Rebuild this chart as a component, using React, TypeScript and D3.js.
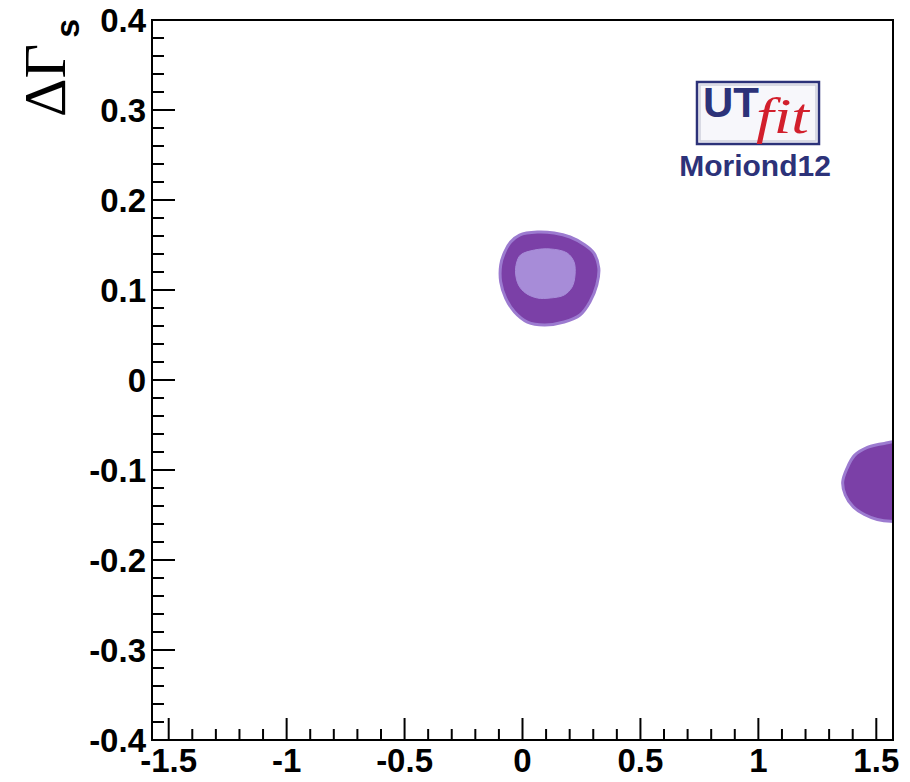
import React from "react";
import * as d3 from "d3";

// Axis ranges (phi_s in rad, DeltaGamma_s in ps^-1)
const xDomain: [number, number] = [-Math.PI / 2, Math.PI / 2];
const yDomain: [number, number] = [-0.4, 0.4];
const xMajorTicks = [-1.5, -1, -0.5, 0, 0.5, 1, 1.5];
const xTickLabels = ["-1.5", "-1", "-0.5", "0", "0.5", "1", "1.5"];
const yMajorTicks = [-0.4, -0.3, -0.2, -0.1, 0, 0.1, 0.2, 0.3, 0.4];
const yTickLabels = ["-0.4", "-0.3", "-0.2", "-0.1", "0", "0.1", "0.2", "0.3", "0.4"];

// 95% probability region around the SM-like solution
const mainOuter: [number, number][] = [
  [-0.0126, 0.1611], [0.063, 0.1644], [0.1345, 0.1633], [0.2017, 0.1589],
  [0.2647, 0.15], [0.3025, 0.1411], [0.3235, 0.1244], [0.3151, 0.1056],
  [0.2857, 0.0867], [0.2437, 0.0722], [0.1765, 0.0644], [0.0924, 0.0611],
  [0.021, 0.0644], [-0.0336, 0.0756], [-0.0714, 0.0911], [-0.0924, 0.1089],
  [-0.0924, 0.1278], [-0.0756, 0.1422], [-0.0504, 0.1533],
];
// 68% probability region
const mainInner: [number, number][] = [
  [-0.0084, 0.1389], [0.0504, 0.1444], [0.1176, 0.1456], [0.1891, 0.1411],
  [0.2185, 0.1311], [0.2227, 0.1167], [0.2101, 0.1033], [0.1765, 0.0944],
  [0.1176, 0.0911], [0.063, 0.0911], [0.0126, 0.0967], [-0.0168, 0.1056],
  [-0.0294, 0.1189], [-0.0252, 0.13],
];
// mirror solution near phi = pi/2 (95% region)
const mirrorOuter: [number, number][] = [
  [1.5336, -0.0705], [1.4622, -0.0749], [1.4076, -0.0838], [1.3765, -0.0978],
  [1.3575, -0.1133], [1.3685, -0.1278], [1.4012, -0.1406], [1.4496, -0.1495],
  [1.5042, -0.155], [1.56, -0.157], [1.6, -0.156], [1.6, -0.07],
];

const W = 910;
const H = 782;
const m = { left: 152, right: 893, top: 20, bottom: 740 };

export default function App() {
  const x = d3.scaleLinear().domain(xDomain).range([m.left, m.right]);
  const y = d3.scaleLinear().domain(yDomain).range([m.bottom, m.top]);

  const line = d3
    .line<[number, number]>()
    .x((d) => x(d[0]))
    .y((d) => y(d[1]))
    .curve(d3.curveCatmullRomClosed.alpha(0.5));

  const xMinor = d3.range(-15, 16).map((i) => i / 10).filter((v) => !xMajorTicks.some((t) => Math.abs(t - v) < 1e-9));
  const yMinor = d3.range(-20, 21).map((i) => i / 50).filter((v) => !yMajorTicks.some((t) => Math.abs(t - v) < 1e-9));

  const dark = "#7b40a7";
  const light = "#a78cd8";
  const rim = "#9c7bd0";
  const navy = "#2c3279";
  const font = "'Liberation Sans', Arial, Helvetica, sans-serif";

  return (
    <svg
      width={W}
      height={H}
      style={{ position: "absolute", left: 0, top: 0, display: "block", background: "#fff" }}
    >
      <defs>
        <clipPath id="plotClip">
          <rect x={m.left} y={m.top} width={m.right - m.left} height={m.bottom - m.top} />
        </clipPath>
      </defs>
      <rect x={0} y={0} width={W} height={H} fill="#fff" />

      <g clipPath="url(#plotClip)">
        <path d={line(mainOuter) || ""} fill={dark} stroke={rim} strokeWidth={3} strokeLinejoin="round" />
        <path d={line(mainInner) || ""} fill={light} stroke={light} strokeWidth={1} />
        <path d={line(mirrorOuter) || ""} fill={dark} stroke={rim} strokeWidth={3} strokeLinejoin="round" />
      </g>

      {/* frame */}
      <rect
        x={m.left}
        y={m.top}
        width={m.right - m.left}
        height={m.bottom - m.top}
        fill="none"
        stroke="#000"
        strokeWidth={2}
      />

      {/* y ticks */}
      {yMajorTicks.map((t) => (
        <line key={"ym" + t} x1={m.left} x2={m.left + 23} y1={y(t)} y2={y(t)} stroke="#000" strokeWidth={2} />
      ))}
      {yMinor.map((t) => (
        <line key={"yn" + t} x1={m.left} x2={m.left + 12} y1={y(t)} y2={y(t)} stroke="#000" strokeWidth={2} />
      ))}
      {/* x ticks */}
      {xMajorTicks.map((t) => (
        <line key={"xm" + t} x1={x(t)} x2={x(t)} y1={m.bottom} y2={m.bottom - 22} stroke="#000" strokeWidth={2} />
      ))}
      {xMinor.map((t) => (
        <line key={"xn" + t} x1={x(t)} x2={x(t)} y1={m.bottom} y2={m.bottom - 11} stroke="#000" strokeWidth={2} />
      ))}

      {/* tick labels */}
      {yMajorTicks.map((t, i) => (
        <text
          key={"yl" + t}
          x={m.left - 6}
          y={y(t) + 12}
          textAnchor="end"
          fontFamily={font}
          fontWeight="bold"
          fontSize={33}
          fill="#000"
        >
          {yTickLabels[i]}
        </text>
      ))}
      {xMajorTicks.map((t, i) => (
        <text
          key={"xl" + t}
          x={x(t)}
          y={772}
          textAnchor="middle"
          fontFamily={font}
          fontWeight="bold"
          fontSize={33}
          fill="#000"
        >
          {xTickLabels[i]}
        </text>
      ))}

      {/* y axis title */}
      <text transform="translate(65,117) rotate(-90)" fill="#000">
        <tspan fontFamily="'Liberation Serif', 'Times New Roman', serif" fontSize={60}>
          ΔΓ
        </tspan>
        <tspan fontFamily={font} fontWeight="bold" fontSize={34} dx={6} dy={14}>
          s
        </tspan>
      </text>

      {/* UTfit logo */}
      <g>
        <rect x={697} y={82} width={122} height={62} fill="#f7f7fb" stroke={navy} strokeWidth={2.5} />
        <rect x={700} y={85} width={116} height={56} fill="none" stroke="#cfd1dd" strokeWidth={1.5} />
        <text x={703} y={117} fontFamily={font} fontWeight="bold" fontSize={42} fill={navy}>
          UT
        </text>
        <text
          x={756}
          y={133}
          fontFamily="'Liberation Serif', 'Times New Roman', serif"
          fontStyle="italic"
          fontSize={50}
          fill="#d21f2c"
          textLength={53}
          lengthAdjust="spacingAndGlyphs"
        >
          fit
        </text>
        <text x={755} y={176} textAnchor="middle" fontFamily={font} fontWeight="bold" fontSize={30} fill={navy}>
          Moriond12
        </text>
      </g>
    </svg>
  );
}
